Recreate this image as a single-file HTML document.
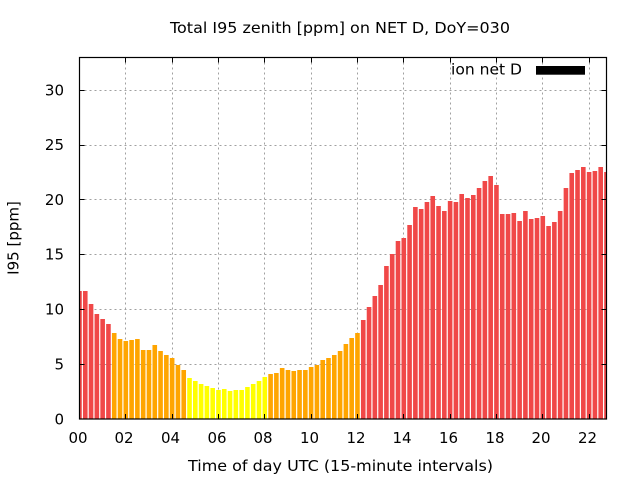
<!DOCTYPE html>
<html><head><meta charset="utf-8"><style>
html,body{margin:0;padding:0;background:#fff;}
svg{display:block;}
text{font-family:"DejaVu Sans","Liberation Sans",sans-serif;fill:#000;}
</style></head><body>
<svg width="640" height="480" viewBox="0 0 640 480" xmlns="http://www.w3.org/2000/svg">
<rect x="0" y="0" width="640" height="480" fill="#fff"/>
<defs><clipPath id="pa"><rect x="79.5" y="57.5" width="527" height="361.5"/></clipPath></defs>
<g stroke="#a0a0a0" stroke-width="1" stroke-dasharray="2,3" fill="none">
<line x1="79.5" y1="364.5" x2="606.5" y2="364.5"/>
<line x1="79.5" y1="309.5" x2="606.5" y2="309.5"/>
<line x1="79.5" y1="254.5" x2="606.5" y2="254.5"/>
<line x1="79.5" y1="199.5" x2="606.5" y2="199.5"/>
<line x1="79.5" y1="145.5" x2="606.5" y2="145.5"/>
<line x1="79.5" y1="90.5" x2="606.5" y2="90.5"/>
<line x1="125.5" y1="57.5" x2="125.5" y2="419"/>
<line x1="172.5" y1="57.5" x2="172.5" y2="419"/>
<line x1="218.5" y1="57.5" x2="218.5" y2="419"/>
<line x1="264.5" y1="57.5" x2="264.5" y2="419"/>
<line x1="311.5" y1="57.5" x2="311.5" y2="419"/>
<line x1="357.5" y1="57.5" x2="357.5" y2="419"/>
<line x1="403.5" y1="57.5" x2="403.5" y2="419"/>
<line x1="450.5" y1="57.5" x2="450.5" y2="419"/>
<line x1="496.5" y1="57.5" x2="496.5" y2="419"/>
<line x1="542.5" y1="57.5" x2="542.5" y2="419"/>
<line x1="589.5" y1="57.5" x2="589.5" y2="419"/>
</g>
<g clip-path="url(#pa)">
<g fill="#f04848">
<rect x="77.18" y="291" width="4.6" height="128"/>
<rect x="82.97" y="291" width="4.6" height="128"/>
<rect x="88.76" y="304" width="4.6" height="115"/>
<rect x="94.55" y="314" width="4.6" height="105"/>
<rect x="100.34" y="319" width="4.6" height="100"/>
<rect x="106.14" y="324" width="4.6" height="95"/>
<rect x="360.95" y="320" width="4.6" height="99"/>
<rect x="366.74" y="307" width="4.6" height="112"/>
<rect x="372.53" y="296" width="4.6" height="123"/>
<rect x="378.32" y="285" width="4.6" height="134"/>
<rect x="384.11" y="266" width="4.6" height="153"/>
<rect x="389.91" y="254" width="4.6" height="165"/>
<rect x="395.70" y="241" width="4.6" height="178"/>
<rect x="401.49" y="238" width="4.6" height="181"/>
<rect x="407.28" y="225" width="4.6" height="194"/>
<rect x="413.07" y="207" width="4.6" height="212"/>
<rect x="418.86" y="209" width="4.6" height="210"/>
<rect x="424.65" y="202" width="4.6" height="217"/>
<rect x="430.44" y="196" width="4.6" height="223"/>
<rect x="436.24" y="206" width="4.6" height="213"/>
<rect x="442.03" y="211" width="4.6" height="208"/>
<rect x="447.82" y="201" width="4.6" height="218"/>
<rect x="453.61" y="202" width="4.6" height="217"/>
<rect x="459.40" y="194" width="4.6" height="225"/>
<rect x="465.19" y="198" width="4.6" height="221"/>
<rect x="470.98" y="195" width="4.6" height="224"/>
<rect x="476.77" y="188" width="4.6" height="231"/>
<rect x="482.56" y="181" width="4.6" height="238"/>
<rect x="488.36" y="176" width="4.6" height="243"/>
<rect x="494.15" y="185" width="4.6" height="234"/>
<rect x="499.94" y="214" width="4.6" height="205"/>
<rect x="505.73" y="214" width="4.6" height="205"/>
<rect x="511.52" y="213" width="4.6" height="206"/>
<rect x="517.31" y="221" width="4.6" height="198"/>
<rect x="523.10" y="211" width="4.6" height="208"/>
<rect x="528.89" y="219" width="4.6" height="200"/>
<rect x="534.69" y="218" width="4.6" height="201"/>
<rect x="540.48" y="216" width="4.6" height="203"/>
<rect x="546.27" y="226" width="4.6" height="193"/>
<rect x="552.06" y="222" width="4.6" height="197"/>
<rect x="557.85" y="211" width="4.6" height="208"/>
<rect x="563.64" y="188" width="4.6" height="231"/>
<rect x="569.43" y="173" width="4.6" height="246"/>
<rect x="575.22" y="170" width="4.6" height="249"/>
<rect x="581.02" y="167" width="4.6" height="252"/>
<rect x="586.81" y="172" width="4.6" height="247"/>
<rect x="592.60" y="171" width="4.6" height="248"/>
<rect x="598.39" y="167" width="4.6" height="252"/>
<rect x="604.18" y="172" width="4.6" height="247"/>
</g>
<g fill="#ffa500">
<rect x="111.93" y="333" width="4.6" height="86"/>
<rect x="117.72" y="339" width="4.6" height="80"/>
<rect x="123.51" y="341" width="4.6" height="78"/>
<rect x="129.30" y="340" width="4.6" height="79"/>
<rect x="135.09" y="339" width="4.6" height="80"/>
<rect x="140.88" y="350" width="4.6" height="69"/>
<rect x="146.67" y="350" width="4.6" height="69"/>
<rect x="152.47" y="345" width="4.6" height="74"/>
<rect x="158.26" y="351" width="4.6" height="68"/>
<rect x="164.05" y="355" width="4.6" height="64"/>
<rect x="169.84" y="358" width="4.6" height="61"/>
<rect x="175.63" y="365" width="4.6" height="54"/>
<rect x="181.42" y="370" width="4.6" height="49"/>
<rect x="268.29" y="374" width="4.6" height="45"/>
<rect x="274.08" y="373" width="4.6" height="46"/>
<rect x="279.87" y="368" width="4.6" height="51"/>
<rect x="285.66" y="370" width="4.6" height="49"/>
<rect x="291.46" y="371" width="4.6" height="48"/>
<rect x="297.25" y="370" width="4.6" height="49"/>
<rect x="303.04" y="370" width="4.6" height="49"/>
<rect x="308.83" y="367" width="4.6" height="52"/>
<rect x="314.62" y="365" width="4.6" height="54"/>
<rect x="320.41" y="360" width="4.6" height="59"/>
<rect x="326.20" y="358" width="4.6" height="61"/>
<rect x="331.99" y="355" width="4.6" height="64"/>
<rect x="337.78" y="351" width="4.6" height="68"/>
<rect x="343.58" y="344" width="4.6" height="75"/>
<rect x="349.37" y="338" width="4.6" height="81"/>
<rect x="355.16" y="333" width="4.6" height="86"/>
</g>
<g fill="#ffff00">
<rect x="187.21" y="378" width="4.6" height="41"/>
<rect x="193.00" y="381" width="4.6" height="38"/>
<rect x="198.80" y="384" width="4.6" height="35"/>
<rect x="204.59" y="386" width="4.6" height="33"/>
<rect x="210.38" y="388" width="4.6" height="31"/>
<rect x="216.17" y="390" width="4.6" height="29"/>
<rect x="221.96" y="389" width="4.6" height="30"/>
<rect x="227.75" y="391" width="4.6" height="28"/>
<rect x="233.54" y="390" width="4.6" height="29"/>
<rect x="239.33" y="390" width="4.6" height="29"/>
<rect x="245.13" y="387" width="4.6" height="32"/>
<rect x="250.92" y="384" width="4.6" height="35"/>
<rect x="256.71" y="381" width="4.6" height="38"/>
<rect x="262.50" y="377" width="4.6" height="42"/>
</g>
</g>
<g stroke="#000" stroke-width="1" fill="none">
<path d="M79.5 364.5h5M79.5 309.5h5M79.5 254.5h5M79.5 199.5h5M79.5 145.5h5M79.5 90.5h5"/>
<path d="M606.5 364.5h-5M606.5 309.5h-5M606.5 254.5h-5M606.5 199.5h-5M606.5 145.5h-5M606.5 90.5h-5"/>
<path d="M125.5 419v-5M172.5 419v-5M218.5 419v-5M264.5 419v-5M311.5 419v-5M357.5 419v-5M403.5 419v-5M450.5 419v-5M496.5 419v-5M542.5 419v-5M589.5 419v-5"/>
<path d="M125.5 57.5v5M172.5 57.5v5M218.5 57.5v5M264.5 57.5v5M311.5 57.5v5M357.5 57.5v5M403.5 57.5v5M450.5 57.5v5M496.5 57.5v5M542.5 57.5v5M589.5 57.5v5"/>
<rect x="79.5" y="57.5" width="527" height="361.5" stroke-width="1.2"/>
</g>
<g font-size="15" text-anchor="end">
<text x="64" y="424.5">0</text>
<text x="64" y="369.5">5</text>
<text x="64" y="314.5">10</text>
<text x="64" y="259.5">15</text>
<text x="64" y="205">20</text>
<text x="64" y="150">25</text>
<text x="64" y="95.5">30</text>
</g>
<g font-size="15" text-anchor="middle">
<text x="78" y="443">00</text>
<text x="124" y="443">02</text>
<text x="170.5" y="443">04</text>
<text x="217" y="443">06</text>
<text x="263" y="443">08</text>
<text x="309.5" y="443">10</text>
<text x="356" y="443">12</text>
<text x="402" y="443">14</text>
<text x="448.5" y="443">16</text>
<text x="495" y="443">18</text>
<text x="541" y="443">20</text>
<text x="587.5" y="443">22</text>
</g>
<text x="170" y="33" font-size="15.5" textLength="340" lengthAdjust="spacingAndGlyphs">Total I95 zenith [ppm] on NET D, DoY=030</text>
<text x="188" y="471" font-size="15.5" textLength="305" lengthAdjust="spacingAndGlyphs">Time of day UTC (15-minute intervals)</text>
<text transform="translate(18.5,238) rotate(-90)" font-size="15" text-anchor="middle">I95 [ppm]</text>
<text x="451" y="74.5" font-size="15.5" textLength="71" lengthAdjust="spacingAndGlyphs">ion net D</text>
<rect x="536" y="66" width="49" height="8.7" fill="#000"/>
</svg>
</body></html>
